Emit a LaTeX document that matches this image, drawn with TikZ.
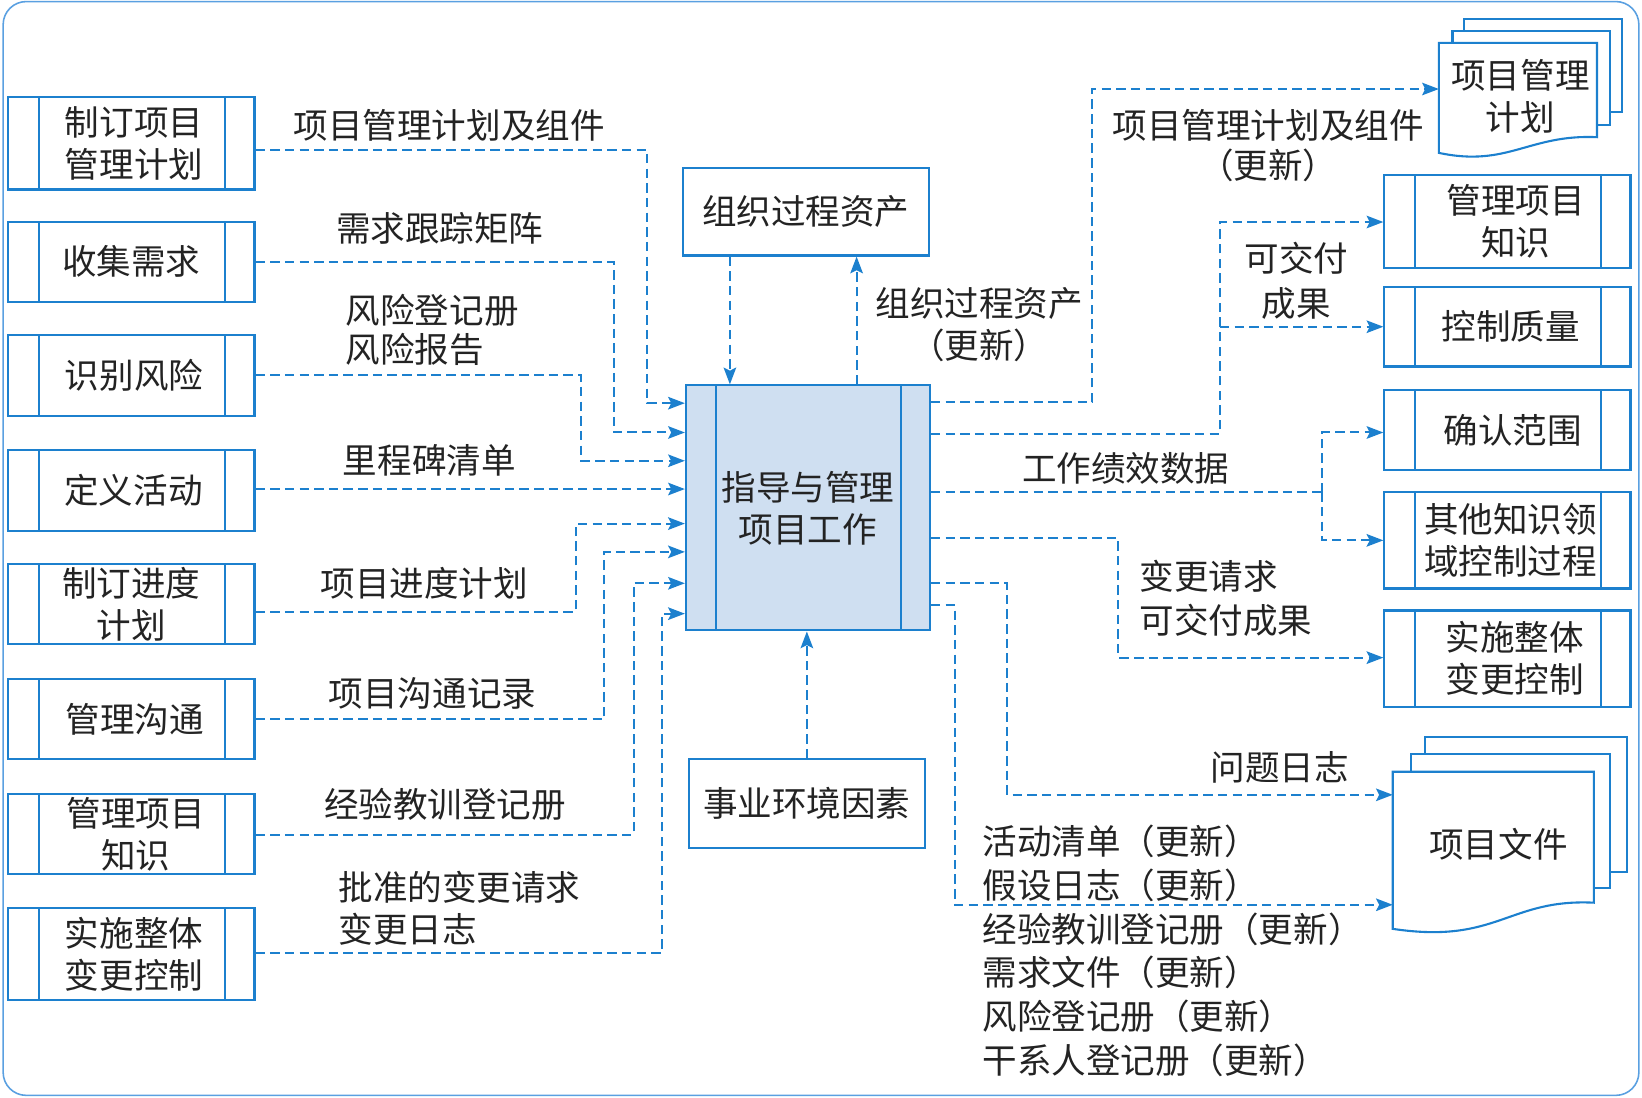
\documentclass[tikz,border=0pt]{standalone}
\usepackage{fontspec}
\setmainfont{Noto Sans CJK SC}
\usetikzlibrary{arrows.meta}
\definecolor{mblue}{RGB}{28,128,206}
\definecolor{cfill}{RGB}{207,223,241}
\definecolor{txt}{RGB}{35,35,35}
\definecolor{framec}{RGB}{90,160,225}
\newcommand\dfont{\fontsize{33pt}{40pt}\selectfont}
\newcommand\lfont{\fontsize{33pt}{42pt}\selectfont}
\begin{document}
\begin{tikzpicture}[x=1pt,y=-1pt,
  proc/.style={draw=mblue, line width=2pt, fill=white, minimum width=235pt, minimum height=77pt,
    inner sep=0pt, align=center, font=\dfont, text=txt,
    path picture={
      \draw[mblue, line width=2pt] ([xshift=29pt]path picture bounding box.north west) -- ([xshift=29pt]path picture bounding box.south west);
      \draw[mblue, line width=2pt] ([xshift=-28pt]path picture bounding box.north east) -- ([xshift=-28pt]path picture bounding box.south east);
    }},
  plain/.style={draw=mblue, line width=2pt, fill=white, inner sep=0pt, align=center, font=\dfont, text=txt},
  lab/.style={font=\dfont, text=txt, inner sep=0pt, align=center},
  connline/.style={draw=mblue, line width=1.9pt, dash pattern=on 9pt off 5pt},
  conn/.style={connline, -{Stealth[length=16pt,width=12pt,inset=3pt]}},
  docline/.style={draw=mblue, line width=2pt, fill=white},
]
\useasboundingbox (0,0) rectangle (1568,1048.5);
% frame
\draw[framec, line width=1.5pt, rounded corners=22pt] (3,1.5) rectangle (1565,1046);

% left process boxes
\node[proc, minimum height=88pt] (L1) at (125.5,137) {\hspace*{5pt}制订项目\\\hspace*{5pt}管理计划};
\node[proc, minimum height=76pt] (L2) at (125.5,250) {收集需求};
\node[proc] (L3) at (125.5,358.5) {\hspace*{5pt}识别风险};
\node[proc] (L4) at (125.5,468.5) {\hspace*{4pt}定义活动};
\node[proc, minimum height=76pt] (L5) at (125.5,577) {制订进度\\计划};
\node[proc] (L6) at (125.5,686.5) {\hspace*{6pt}管理沟通};
\node[proc] (L7) at (125.5,796.5) {\hspace*{8pt}管理项目\\\hspace*{8pt}知识};
\node[proc, minimum height=88pt] (L8) at (125.5,911) {\hspace*{5pt}实施整体\\\hspace*{5pt}变更控制};

% right process boxes
\node[proc, minimum height=89pt] (R1) at (1439.5,211.5) {\hspace*{16pt}管理项目\\\hspace*{16pt}知识};
\node[proc, minimum height=76pt] (R2) at (1439.5,312) {\hspace*{6pt}控制质量};
\node[proc] (R3) at (1439.5,410.5) {\hspace*{10pt}确认范围};
\node[proc, minimum height=92pt] (R4) at (1439.5,516) {\hspace*{6pt}其他知识领\\\hspace*{6pt}域控制过程};
\node[proc, minimum height=92pt] (R5) at (1439.5,629) {\hspace*{14pt}实施整体\\\hspace*{14pt}变更控制};

% center
\node[proc, fill=cfill, minimum width=233pt, minimum height=234pt] (C) at (771.5,485) {指导与管理\\项目工作};
\node[plain, minimum width=235pt, minimum height=84pt] (O) at (769.5,202) {组织过程资产};
\node[plain, minimum width=225pt, minimum height=85pt] (E) at (770.5,767.5) {事业环境因素};

% documents: project management plan
\draw[docline] (1398,18) rectangle (1549,107);
\draw[docline] (1387,30) rectangle (1537,119);
\draw[docline] (1374,41) -- (1525,41) -- (1525,131) .. controls (1460,128) and (1440,160) .. (1374,146) -- cycle;
\node[lab] (PMP) at (1452,92) {项目管理\\计划};
\coordinate (PMPw) at (1374,85);

% documents: project documents
\draw[docline] (1361,704) rectangle (1554,833);
\draw[docline] (1347,720) rectangle (1537,848);
\draw[docline] (1330,737) -- (1522,737) -- (1522,862) .. controls (1440,858) and (1430,902) .. (1330,887) -- cycle;
\node[lab] (PF) at (1431,806) {项目文件};
\coordinate (PFw1) at (1330,759);
\coordinate (PFw2) at (1330,864);

% left inputs
\draw[conn] (L1.east |- 0,143) -| (618,385) -- (C.west |- 0,385);
\draw[conn] (L2.east) -| (586,413) -- (C.west |- 0,413);
\draw[conn] (L3.east) -| (555,440) -- (C.west |- 0,440);
\draw[conn] (L4.east |- 0,467) -- (C.west |- 0,467);
\draw[conn] (L5.east |- 0,584) -| (550,500) -- (C.west |- 0,500);
\draw[conn] (L6.east |- 0,687) -| (577,527) -- (C.west |- 0,527);
\draw[conn] (L7.east |- 0,797) -| (605,557) -- (C.west |- 0,557);
\draw[conn] (L8.east |- 0,910) -| (632,586) -- (C.west |- 0,586);

% top / bottom
\draw[conn] (O.south -| 697,0) -- (C.north -| 697,0);
\draw[conn] (C.north -| 818,0) -- (O.south -| 818,0);
\draw[conn] (E.north) -- (E.north |- C.south);

% right outputs
\draw[conn] (C.east |- 0,384) -| (1043,85) -- (PMPw);
\draw[conn] (C.east |- 0,414) -| (1165,212) -- (R1.west |- 0,212);
\coordinate (j1) at (1165,312);
\draw[conn] (j1) -- (R2.west);
\coordinate (j2) at (1262,470);
\draw[connline] (C.east |- 0,470) -- (j2);
\draw[conn] (j2) |- (R3.west |- 0,413);
\draw[conn] (j2) |- (R4.west);
\draw[conn] (C.east |- 0,514) -| (1068,628) -- (R5.west |- 0,628);
\draw[conn] (C.east |- 0,557) -| (962,759) -- (PFw1);
\draw[conn] (C.east |- 0,578) -| (912,864) -- (PFw2);

% labels
\node[lab] (t1) at (429,120) {项目管理计划及组件};
\node[lab] (t2) at (420,218) {需求跟踪矩阵};
\node[lab, align=left, anchor=west, font=\fontsize{33pt}{37pt}\selectfont] (t3) at (330,315) {风险登记册\\风险报告};
\node[lab] (t4) at (410,440) {里程碑清单};
\node[lab] (t5) at (405,557) {项目进度计划};
\node[lab] (t6) at (413,662) {项目沟通记录};
\node[lab] (t7) at (425,768) {经验教训登记册};
\node[lab, align=left, anchor=west] (t8) at (323,867) {批准的变更请求\\变更日志};
\node[lab] (t9) at (935,310) {组织过程资产\\（更新）};
\node[lab, font=\fontsize{33pt}{38pt}\selectfont] (t10) at (1211,139) {项目管理计划及组件\\（更新）};
\node[lab, font=\fontsize{33pt}{43pt}\selectfont] (t11) at (1238,268) {可交付\\成果};
\node[lab] (t12) at (1075,447) {工作绩效数据};
\node[lab, align=left, anchor=west, font=\lfont] (t13) at (1088,571) {变更请求\\可交付成果};
\node[lab] (t14) at (1222,733) {问题日志};
\node[lab, align=left, anchor=west, font=\lfont] (t15) at (938,908) {活动清单（更新）\\假设日志（更新）\\经验教训登记册（更新）\\需求文件（更新）\\风险登记册（更新）\\干系人登记册（更新）};
\end{tikzpicture}
\end{document}
